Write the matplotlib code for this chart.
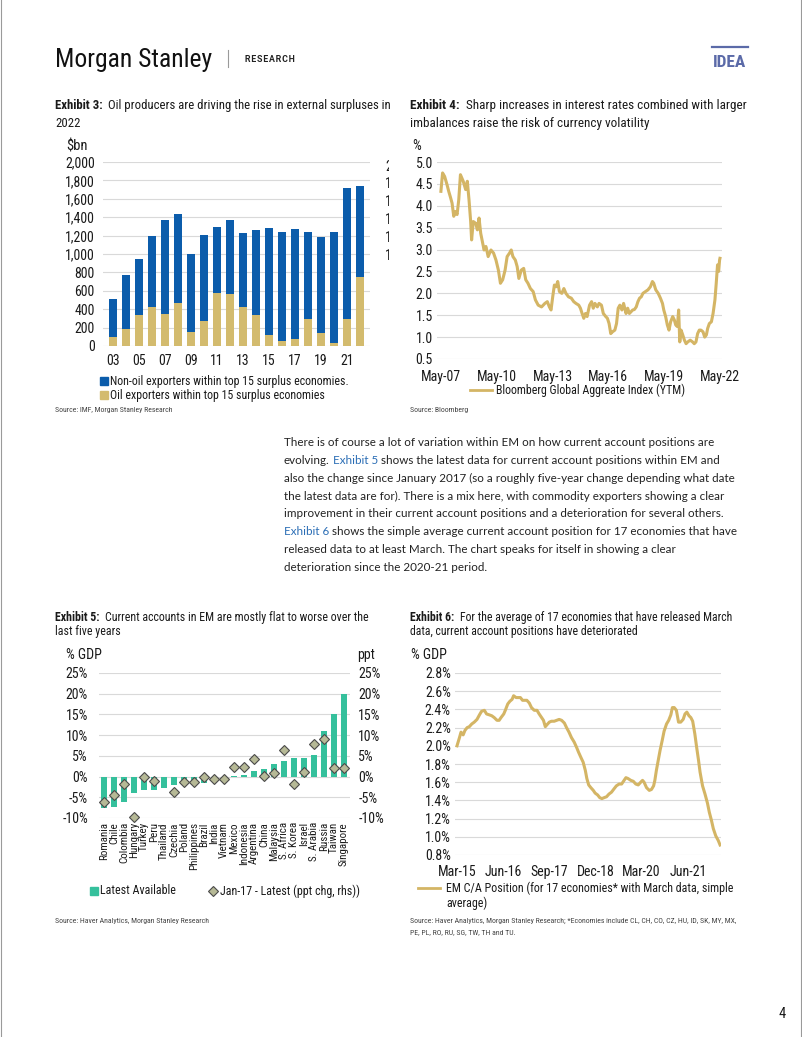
import matplotlib
matplotlib.use('Agg')
import matplotlib.pyplot as plt
import numpy as np
from matplotlib import font_manager
from matplotlib.transforms import Bbox
from matplotlib.lines import Line2D

# ---------------- DATA ----------------
years3 = list(range(2003, 2023))
oil3 = [101, 181, 340, 423, 347, 470, 152, 268, 571, 564, 427, 340, 116, 54, 80, 289, 137, 36, 297, 749]
nonoil3 = [405, 589, 608, 777, 1027, 966, 843, 940, 724, 803, 803, 926, 1172, 1186, 1193, 951, 1046, 1204, 1421, 987]
ticks3 = ['03', '05', '07', '09', '11', '13', '15', '17', '19', '21']

dates4 = [2007.33, 2007.42, 2007.53, 2007.66, 2007.75, 2007.84, 2007.93, 2008.02, 2008.11, 2008.20,
          2008.29, 2008.38, 2008.53, 2008.66, 2008.75, 2008.84, 2008.93, 2008.98, 2009.07, 2009.20,
          2009.29, 2009.38, 2009.47, 2009.56, 2009.65, 2009.75, 2009.87, 2010.02, 2010.16, 2010.29,
          2010.42, 2010.53, 2010.65, 2010.78, 2010.89, 2011.02, 2011.11, 2011.20, 2011.33, 2011.43,
          2011.52, 2011.65, 2011.78, 2011.89, 2012.01, 2012.14, 2012.29, 2012.41, 2012.56, 2012.74,
          2012.92, 2013.05, 2013.16, 2013.25, 2013.34, 2013.43, 2013.52, 2013.61, 2013.70, 2013.83,
          2013.94, 2014.05, 2014.19, 2014.34, 2014.47, 2014.59, 2014.74, 2014.83, 2014.92, 2015.01,
          2015.10, 2015.19, 2015.32, 2015.43, 2015.52, 2015.61, 2015.74, 2015.83, 2015.96, 2016.06,
          2016.19, 2016.28, 2016.37, 2016.46, 2016.55, 2016.68, 2016.77, 2016.86, 2016.95, 2017.06,
          2017.15, 2017.28, 2017.37, 2017.46, 2017.55, 2017.64, 2017.73, 2017.83, 2017.92, 2018.01,
          2018.10, 2018.19, 2018.32, 2018.46, 2018.59, 2018.70, 2018.77, 2018.88, 2019.01, 2019.13,
          2019.24, 2019.31, 2019.41, 2019.50, 2019.59, 2019.68, 2019.79, 2019.88, 2019.95, 2020.04,
          2020.11, 2020.17, 2020.24, 2020.33, 2020.42, 2020.51, 2020.60, 2020.73, 2020.86, 2020.95,
          2021.04, 2021.13, 2021.22, 2021.31, 2021.42, 2021.51, 2021.60, 2021.67, 2021.76, 2021.87,
          2021.96, 2022.06, 2022.13, 2022.20, 2022.26, 2022.31, 2022.33]
ytm4 = [4.33, 4.75, 4.67, 4.48, 4.33, 4.20, 4.06, 3.76, 3.87, 3.80,
        4.14, 4.71, 4.56, 4.37, 4.56, 4.14, 3.64, 3.22, 3.64, 3.60,
        3.45, 3.72, 3.37, 3.18, 2.99, 3.07, 2.84, 2.99, 2.92, 2.76,
        2.53, 2.23, 2.31, 2.53, 2.84, 2.92, 2.99, 2.84, 2.76, 2.61,
        2.34, 2.53, 2.57, 2.31, 2.23, 2.11, 2.04, 1.85, 1.73, 1.69,
        1.77, 1.81, 1.69, 1.62, 1.92, 2.19, 2.15, 2.27, 2.04, 2.00,
        2.11, 2.00, 1.92, 1.89, 1.81, 1.77, 1.73, 1.66, 1.54, 1.43,
        1.54, 1.47, 1.73, 1.81, 1.66, 1.77, 1.69, 1.77, 1.73, 1.54,
        1.47, 1.43, 1.31, 1.08, 1.12, 1.16, 1.31, 1.66, 1.73, 1.62,
        1.77, 1.54, 1.66, 1.54, 1.58, 1.62, 1.63, 1.69, 1.81, 1.89,
        1.92, 2.00, 2.04, 2.08, 2.15, 2.27, 2.23, 2.08, 2.00, 1.89,
        1.77, 1.62, 1.47, 1.28, 1.16, 1.35, 1.47, 1.39, 1.28, 1.24,
        1.62, 0.89, 1.16, 1.05, 0.93, 0.85, 0.89, 0.93, 0.89, 0.85,
        0.89, 1.08, 1.16, 1.16, 1.12, 1.00, 1.05, 1.20, 1.31, 1.35,
        1.54, 1.85, 2.23, 2.65, 2.50, 2.76, 2.80]
tickpos4 = [2007.33, 2010.33, 2013.33, 2016.33, 2019.33, 2022.33]
ticklab4 = ['May-07', 'May-10', 'May-13', 'May-16', 'May-19', 'May-22']

countries5 = ['Romania', 'Chile', 'Colombia', 'Hungary', 'Turkey', 'Peru', 'Thailand', 'Czechia',
              'Poland', 'Philippines', 'Brazil', 'India', 'Vietnam', 'Mexico', 'Indonesia',
              'Argentina', 'China', 'Malaysia', 'S. Africa', 'S. Korea', 'Israel', 'S. Arabia',
              'Russia', 'Taiwan', 'Singapore']
latest5 = [-7.7, -7.3, -6.2, -3.9, -3.3, -3.2, -2.7, -2.1, -1.8, -1.6, -1.5, -1.0, -0.6,
           0.1, 0.4, 1.4, 1.9, 3.0, 3.7, 4.5, 4.6, 5.3, 11.1, 15.0, 19.9]
change5 = [-6.1, -4.5, -1.8, -9.8, -0.1, -1.1, np.nan, -3.8, -1.4, -1.4, -0.2, -0.5, -0.7,
           2.2, 2.2, 4.3, 0.2, 0.8, 6.3, -1.8, 1.0, 7.8, 9.0, 2.0, 2.0]

months6 = [0, 0.8, 1.3, 2.0, 2.6, 3.3, 4.0, 4.8, 5.6, 6.5,
           7.3, 8.0, 8.9, 9.6, 10.5, 11.3, 12.1, 13.0, 13.7, 14.3,
           15.2, 15.7, 16.5, 17.2, 17.9, 18.4, 19.2, 19.9, 20.6, 21.3,
           22.1, 22.7, 23.5, 24.2, 25.1, 26.0, 26.7, 27.5, 28.1, 28.7,
           29.2, 30.0, 30.7, 31.6, 32.4, 33.2, 34.0, 34.9, 35.6, 36.4,
           37.2, 38.1, 38.9, 39.5, 40.3, 41.0, 41.7, 42.2, 42.8, 43.5,
           44.3, 44.9, 45.7, 46.4, 47.1, 47.8, 48.6, 49.4, 50.2, 51.1,
           51.8, 52.7, 53.5, 54.1, 54.9, 55.6, 56.5, 57.3, 58.1, 58.9,
           59.7, 60.3, 60.8, 61.6, 62.5, 63.2, 63.9, 64.3, 64.8, 65.4,
           66.0, 66.7, 67.3, 68.1, 68.8, 69.5, 70.0, 70.6, 71.3, 72.0,
           72.7, 73.5, 74.1, 74.7, 75.4, 76.0, 76.6, 77.3, 77.9, 78.5,
           79.0, 79.8, 80.6, 81.4, 82.0, 82.7, 83.3, 84.1, 84.9, 85.5]
ca6 = [2.00, 2.09, 2.15, 2.12, 2.17, 2.20, 2.21, 2.24, 2.26, 2.29,
       2.34, 2.38, 2.39, 2.35, 2.34, 2.33, 2.31, 2.28, 2.28, 2.31,
       2.35, 2.39, 2.46, 2.49, 2.51, 2.55, 2.53, 2.53, 2.53, 2.50,
       2.50, 2.50, 2.47, 2.42, 2.39, 2.39, 2.35, 2.31, 2.28, 2.21,
       2.23, 2.26, 2.27, 2.27, 2.28, 2.29, 2.28, 2.25, 2.20, 2.15,
       2.09, 2.04, 1.98, 1.93, 1.87, 1.82, 1.73, 1.64, 1.57, 1.54,
       1.51, 1.48, 1.46, 1.43, 1.42, 1.43, 1.44, 1.47, 1.49, 1.53,
       1.56, 1.58, 1.58, 1.61, 1.65, 1.64, 1.62, 1.61, 1.58, 1.57,
       1.60, 1.62, 1.60, 1.54, 1.51, 1.52, 1.56, 1.62, 1.73, 1.84,
       1.95, 2.06, 2.16, 2.24, 2.28, 2.34, 2.42, 2.42, 2.39, 2.26,
       2.26, 2.29, 2.35, 2.37, 2.33, 2.31, 2.27, 2.13, 1.98, 1.84,
       1.71, 1.56, 1.47, 1.37, 1.27, 1.18, 1.09, 1.01, 0.96, 0.91]
tickpos6 = [0, 15, 30, 45, 60, 75]
ticklab6 = ['Mar-15', 'Jun-16', 'Sep-17', 'Dec-18', 'Mar-20', 'Jun-21']

paragraph = [
    [("There is of course a lot of variation within EM on how current account positions are", 'k')],
    [("evolving.", 'k'), ("Exhibit 5", 'b'), ("shows the latest data for current account positions within EM and", 'k')],
    [("also the change since January 2017 (so a roughly five-year change depending what date", 'k')],
    [("the latest data are for). There is a mix here, with commodity exporters showing a clear", 'k')],
    [("improvement in their current account positions and a deterioration for several others.", 'k')],
    [("Exhibit 6", 'b'), ("shows the simple average current account position for 17 economies that have", 'k')],
    [("released data to at least March. The chart speaks for itself in showing a clear", 'k')],
    [("deterioration since the 2020-21 period.", 'k')],
]

# ---------------- FONTS ----------------
W, H = 802, 1037
ttf = font_manager.fontManager.ttflist
names = {f.name for f in ttf}


def is_cond(f):
    st = f.stretch
    if isinstance(st, str):
        return st in ('condensed', 'semi-condensed', 'extra-condensed', 'ultra-condensed')
    return st < 500


COND = None
for fam in ['Roboto Condensed', 'Liberation Sans Narrow', 'Roboto', 'Noto Sans', 'Open Sans', 'DejaVu Sans']:
    if fam in ('Roboto Condensed', 'Liberation Sans Narrow'):
        if fam in names:
            COND = (fam, False)
            break
    elif any(f.name == fam and is_cond(f) for f in ttf):
        COND = (fam, True)
        break

if COND is None:
    CF = ['Roboto', 'DejaVu Sans']
    TICK = 9.5
else:
    CF = [COND[0], 'Roboto', 'DejaVu Sans']
    TICK = 10
    if COND[1]:
        plt.rcParams['font.stretch'] = 'condensed'
BODY = ['Lato', 'Open Sans', 'DejaVu Sans']
plt.rcParams['font.family'] = CF
plt.rcParams['axes.unicode_minus'] = False

BLUE = '#0b5cab'
GOLD_BAR = '#d3bb6e'
GOLD_LINE = '#d4b565'
TEAL = '#35c09c'
GRID = '#d9d9d9'
TXT = '#1a1a1a'
LINK = '#2a6db5'

fig = plt.figure(figsize=(W / 100, H / 100), dpi=100)
fig.patch.set_facecolor('white')
renderer = fig.canvas.get_renderer()


def fx(x):
    return x / W


def fy(y):
    return 1 - y / H


def rect(l, t, r, b):
    return [l / W, 1 - b / H, (r - l) / W, (b - t) / H]


def measure(s, size, family, weight='normal'):
    t = fig.text(0, 0, s, fontsize=size, family=family, fontweight=weight)
    w = t.get_window_extent(renderer).width
    t.remove()
    return w


def space_w(size, family):
    return measure('a a', size, family) - measure('aa', size, family)


def fit(widthfn, target, start=10.0):
    size = start
    for _ in range(4):
        size = size * target / widthfn(size)
    return size


def text(x, y, s, size, family=None, color=TXT, weight='normal', ha='left', va='baseline', **kw):
    fam = CF if family is None else family
    return fig.text(fx(x), fy(y), s, fontsize=size, family=fam, color=color,
                    fontweight=weight, ha=ha, va=va, **kw)


def title_width(bold, rest1, size):
    return measure(bold, size, CF, 'bold') + 2 * space_w(size, CF) + measure(rest1, size, CF)


def title(x, y1, y2, bold, rest1, rest2, size):
    t = text(x, y1, bold, size, weight='bold')
    wb = t.get_window_extent(renderer).width
    text(x + wb + 2 * space_w(size, CF), y1, rest1, size)
    text(x, y2, rest2, size)


def style_axes(ax, pad_y, pad_x, size=TICK):
    for s in ax.spines.values():
        s.set_visible(False)
    ax.grid(axis='y', color=GRID, lw=0.8)
    ax.grid(axis='x', visible=False)
    ax.set_axisbelow(True)
    ax.tick_params(axis='y', length=0, labelsize=size, pad=pad_y, colors=TXT)
    ax.tick_params(axis='x', length=0, labelsize=size, pad=pad_x, colors=TXT)


# ---------------- HEADER ----------------
hs = fit(lambda s: measure('Morgan Stanley', s, CF), 157)
text(55, 67, 'Morgan Stanley', hs, color='#111111')
fig.add_artist(Line2D([fx(228), fx(228)], [fy(50), fy(67)], color='#9a9a9a', lw=0.8,
                      transform=fig.transFigure))
text(245, 62, 'R E S E A R C H'.replace(' ', '\u200a'), 6.3, family=['Roboto', 'DejaVu Sans'],
     weight='bold', color='#222222')
text(730, 67, 'IDEA', 12.5, weight='bold', color='#5b6aa8', ha='center')
fig.add_artist(Line2D([fx(712), fx(748)], [fy(47), fy(47)], color='#5b6aa8', lw=1.6,
                      transform=fig.transFigure))
for xe in (0.6, W - 1.2):
    fig.add_artist(Line2D([fx(xe), fx(xe)], [0, 1], color='#9a9a9a', lw=0.8,
                          transform=fig.transFigure))

# ---------------- TITLES ----------------
titles = [
    (55, 109, 127, 'Exhibit 3:', 'Oil producers are driving the rise in external surpluses in', '2022', 337),
    (410, 109, 127, 'Exhibit 4:', 'Sharp increases in interest rates combined with larger',
     'imbalances raise the risk of currency volatility', 336),
    (55, 621, 635, 'Exhibit 5:', 'Current accounts in EM are mostly flat to worse over the',
     'last five years', 313),
    (410, 621, 635, 'Exhibit 6:', 'For the average of 17 economies that have released March',
     'data, current account positions have deteriorated', 323),
]
tsizes = [fit(lambda s, b=b, r=r: title_width(b, r, s), tw) for (_, _, _, b, r, _, tw) in titles]
for (x, y1, y2, b, r1, r2, tw), ts in zip(titles, tsizes):
    title(x, y1, y2, b, r1, r2, ts)

# ---------------- EXHIBIT 3 ----------------
ax3 = fig.add_axes(rect(103, 162, 370, 346))
ax3.bar(years3, oil3, width=0.65, color=GOLD_BAR, zorder=2)
ax3.bar(years3, nonoil3, width=0.65, bottom=oil3, color=BLUE, zorder=2)
ax3.set_xlim(2002.23, 2022.77)
ax3.set_ylim(0, 2000)
ax3.set_yticks(range(0, 2001, 200))
ax3.set_yticklabels([f'{v:,}' for v in range(0, 2001, 200)])
ax3.set_xticks(years3[::2])
ax3.set_xticklabels(ticks3)
style_axes(ax3, 6, 6)
text(66, 150, '$bn', TICK + 0.5)
bb = Bbox([[0, 0], [388.5, H]])
for yy, ch in zip([171, 188, 206, 224, 242, 260], ['2', '1', '1', '1', '1', '1']):
    t = text(385, yy, ch, TICK)
    t.set_clip_box(bb)
    t.set_clip_on(True)
ls3 = fit(lambda s: measure('Non-oil exporters within top 15 surplus economies.', s, CF), 239)
for yy, col, lab in [(381, BLUE, 'Non-oil exporters within top 15 surplus economies.'),
                     (395, GOLD_BAR, 'Oil exporters within top 15 surplus economies')]:
    fig.add_artist(Line2D([fx(104)], [fy(yy)], marker='s', ms=5.5, color=col, lw=0,
                          transform=fig.transFigure))
    text(110, yy, lab, ls3, va='center')

# ---------------- EXHIBIT 4 ----------------
ax4 = fig.add_axes(rect(437, 162, 722, 359))
ax4.plot(dates4, ytm4, color=GOLD_LINE, lw=2.2, zorder=3)
ax4.set_xlim(2007.12, 2022.44)
ax4.set_ylim(0.5, 5.0)
yt4 = np.arange(0.5, 5.01, 0.5)
ax4.set_yticks(yt4)
ax4.set_yticklabels([f'{v:.1f}' for v in yt4])
ax4.set_xticks(tickpos4)
ax4.set_xticklabels(ticklab4)
style_axes(ax4, 3, 8)
text(412, 150, '%', TICK)
fig.add_artist(Line2D([fx(470), fx(492)], [fy(390), fy(390)], color=GOLD_LINE, lw=2.0,
                      transform=fig.transFigure))
ls4 = fit(lambda s: measure('Bloomberg Global Aggreate Index (YTM)', s, CF), 189)
text(496, 390, 'Bloomberg Global Aggreate Index (YTM)', ls4, va='center')

# ---------------- EXHIBIT 5 ----------------
ax5 = fig.add_axes(rect(99, 673, 350, 818))
x5 = np.arange(len(countries5))
ax5.bar(x5, latest5, width=0.6, color=TEAL, zorder=2)
ax5.plot(x5, change5, lw=0, marker='D', ms=5.2, mfc='#b6b996', mec='#4a4a4a', mew=0.8, zorder=3,
         clip_on=False)
ax5.set_xlim(-0.5, 24.6)
ax5.set_ylim(-10, 25)
yt5 = list(range(-10, 26, 5))
ax5.set_yticks(yt5)
ax5.set_yticklabels([f'{v}%' for v in yt5])
ax5.set_xticks(x5)
ax5.set_xticklabels(countries5, rotation=90, ha='center', va='top')
style_axes(ax5, 8, 3)
ax5.tick_params(axis='x', labelsize=7.9)
ax5r = ax5.twinx()
ax5r.set_ylim(-10, 25)
ax5r.set_yticks(yt5)
ax5r.set_yticklabels([f'{v}%' for v in yt5])
for s in ax5r.spines.values():
    s.set_visible(False)
ax5r.tick_params(axis='y', length=0, labelsize=TICK, pad=6, colors=TXT)
text(66, 659, '% GDP', TICK)
text(357, 659, 'ppt', TICK)
fig.add_artist(Line2D([fx(94)], [fy(891)], marker='s', ms=6, color=TEAL, lw=0,
                      transform=fig.transFigure))
ls5 = fit(lambda s: measure('Latest Available', s, CF), 76)
text(100, 891, 'Latest Available', ls5, va='center')
fig.add_artist(Line2D([fx(213)], [fy(891)], marker='D', ms=5.2, mfc='#b6b996', mec='#4a4a4a',
                      mew=0.8, lw=0, transform=fig.transFigure))
text(220, 891, 'Jan-17 - Latest (ppt chg, rhs))', ls5, va='center')

# ---------------- EXHIBIT 6 ----------------
ax6 = fig.add_axes(rect(455, 673, 721, 855))
ax6.plot(months6, ca6, color=GOLD_LINE, lw=2.2, zorder=3)
ax6.set_xlim(-0.65, 85.8)
ax6.set_ylim(0.8, 2.8)
yt6 = np.arange(0.8, 2.81, 0.2)
ax6.set_yticks(yt6)
ax6.set_yticklabels([f'{v:.1f}%' for v in yt6])
ax6.set_xticks(tickpos6)
ax6.set_xticklabels(ticklab6)
style_axes(ax6, 3, 7)
text(411, 659, '% GDP', TICK)
fig.add_artist(Line2D([fx(418), fx(440)], [fy(888), fy(888)], color=GOLD_LINE, lw=2.0,
                      transform=fig.transFigure))
ls6 = fit(lambda s: measure('EM C/A Position (for 17 economies* with March data, simple', s, CF), 289)
text(446, 888, 'EM C/A Position (for 17 economies* with March data, simple', ls6, va='center')
text(446, 903, 'average)', ls6, va='center')

# ---------------- SOURCES ----------------
ss = fit(lambda s: measure('Source: Haver Analytics, Morgan Stanley Research', s, CF), 154)
SRC = '#444444'
text(55, 410, 'Source: IMF, Morgan Stanley Research', ss, color=SRC, va='center')
text(410, 410, 'Source: Bloomberg', ss, color=SRC, va='center')
text(55, 921, 'Source: Haver Analytics, Morgan Stanley Research', ss, color=SRC, va='center')
text(410, 921, 'Source: Haver Analytics, Morgan Stanley Research; *Economies include CL, CH, CO, CZ, HU, ID, SK, MY, MX,',
     ss, color=SRC, va='center')
text(410, 932, 'PE, PL, RO, RU, SG, TW, TH and TU.', ss, color=SRC, va='center')
text(779, 1018, '4', 10.5)

# ---------------- PARAGRAPH ----------------
bsize = fit(lambda s: measure(paragraph[2][0][0], s, BODY), 453)
bsp = space_w(bsize, BODY)
for i, segs in enumerate(paragraph):
    yb = 446 + i * 17.86
    cx = 284
    for s, c in segs:
        t = text(cx, yb, s, bsize, family=BODY, color=(LINK if c == 'b' else '#222222'))
        cx += t.get_window_extent(renderer).width + bsp

fig.savefig('out.png', dpi=100, facecolor='white')
